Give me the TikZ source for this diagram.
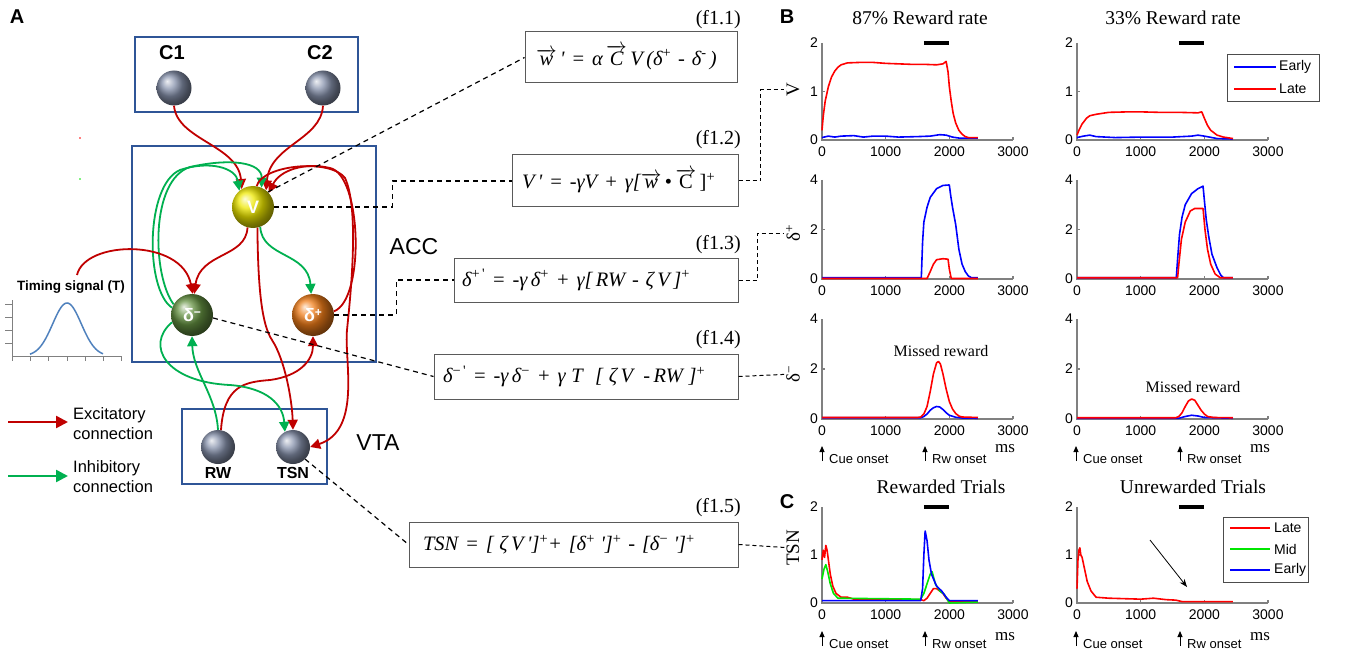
\documentclass[tikz,border=0pt]{standalone}
\usepackage{fontspec}
\setmainfont{Liberation Sans}
\newfontfamily\tms{Liberation Serif}
\usetikzlibrary{arrows.meta}
\newcommand\fsz[1]{\fontsize{#1}{#1}\selectfont}
\newcommand\vv[1]{$\overrightarrow{\hbox{#1}}$}
\newcommand\sps[1]{\textsuperscript{\upshape #1}}
\definecolor{exc}{RGB}{192,0,0}
\definecolor{inh}{RGB}{0,176,80}
\definecolor{boxblue}{RGB}{47,85,151}
\definecolor{sphgray}{RGB}{135,146,172}
\definecolor{vyellow}{RGB}{238,232,0}
\definecolor{dmgreen}{RGB}{100,145,65}
\definecolor{dporange}{RGB}{240,125,25}
\definecolor{pred}{RGB}{255,0,0}
\definecolor{pblue}{RGB}{0,0,255}
\definecolor{pgreen}{RGB}{0,230,0}
\definecolor{gaus}{RGB}{79,129,189}
\definecolor{axgray}{RGB}{128,128,128}
\definecolor{eqgray}{RGB}{90,90,90}
\newcommand\frameplot[3]{%
  \draw[axisln] (0,#2) -- (0,0) -- (3000,0);
  \foreach \t in {1000,2000,3000}{\draw[axisln] (\t,0) -- ++(0,3pt);}
  \draw[axisln] (0,#3) -- ++(3pt,0);
  \foreach \t in {0,1000,2000,3000}{\node[ticklab,anchor=north,yshift=-7pt] (#1x\t) at (\t,0) {\t};}
  \node[ticklab,anchor=east,xshift=-4pt] (#1ya) at (0,0) {0};
  \node[ticklab,anchor=east,xshift=-4pt] (#1yb) at (0,#3) {#3};
  \node[ticklab,anchor=east,xshift=-4pt] (#1yc) at (0,#2) {#2};
}
\begin{document}
\begin{tikzpicture}[x=1pt,y=-1pt,
  region/.style={draw=boxblue,line width=2pt},
  sph/.style={circle,shade,inner sep=0pt,text=white,font=\bfseries\fsz{18}},
  excarrow/.style={draw=exc,line width=1.8pt,-{Triangle[length=10pt,width=10pt]}},
  inharrow/.style={draw=inh,line width=1.8pt,-{Triangle[length=10pt,width=10pt]}},
  dashc/.style={draw=black,line width=1.2pt,dash pattern=on 5pt off 4pt},
  eqbox/.style={draw=eqgray,line width=1pt,inner ysep=0pt,align=left,font=\tms\itshape\fsz{20.5}},
  eqlab/.style={font=\tms\fsz{20},anchor=east,inner sep=0pt},
  ticklab/.style={font=\fsz{14},inner sep=0pt},
  axisln/.style={draw=axgray,line width=1.2pt},
  curve/.style={line width=1.6pt,line join=round},
  ttl/.style={font=\tms\fsz{19.5}},
  ylab/.style={font=\tms\fsz{19},rotate=90,inner sep=2pt},
  onset/.style={draw=black,line width=1pt,-{Triangle[length=6pt,width=5pt]}},
  onlab/.style={font=\fsz{13},anchor=west,inner sep=0pt},
  mslab/.style={font=\tms\fsz{17},inner sep=0pt},
  plab/.style={font=\bfseries\fsz{20},inner sep=0pt},
  leglab/.style={font=\fsz{14},anchor=west,inner sep=0pt}
]
\useasboundingbox (0,0) rectangle (1362,655);
\fill[white] (0,0) rectangle (1362,655);

% ================= Panel A =================
\node[plab] (labA) at (17,17) {A};
\draw[region] (135,37) rectangle (358,112);
\draw[region] (132,146) rectangle (376,362);
\draw[region] (182,409) rectangle (327,484);

\node[font=\bfseries\fsz{20}] (c1lab) at (172,53) {C1};
\node[font=\bfseries\fsz{20}] (c2lab) at (320,53) {C2};
\node[sph,minimum size=35pt,ball color=sphgray] (C1) at (174,88) {};
\node[sph,minimum size=35pt,ball color=sphgray] (C2) at (323,88) {};
\node[sph,minimum size=42pt,ball color=vyellow] (V) at (253,207) {V};
\node[sph,minimum size=42pt,ball color=dmgreen] (dm) at (192,315) {δ\raisebox{5pt}{\fsz{12}−}};
\node[sph,minimum size=42pt,ball color=dporange] (dp) at (313,315) {δ\raisebox{5pt}{\fsz{12}+}};
\node[sph,minimum size=34pt,ball color=sphgray] (RW) at (218,447) {};
\node[sph,minimum size=34pt,ball color=sphgray] (TSN) at (293,447) {};
\node[font=\bfseries\fsz{16}] (rwlab) at (218,473) {RW};
\node[font=\bfseries\fsz{16}] (tsnlabA) at (293,473) {TSN};
\node[font=\fsz{23}] (acc) at (414,247) {ACC};
\node[font=\fsz{23}] (vta) at (378,443) {VTA};

% timing signal
\node[font=\bfseries\fsz{13.5}] (timing) at (71,287) {Timing signal (T)};
\coordinate (tstart) at (77,275);
\draw[axgray,line width=0.8pt] (12,300) -- (12,356) -- (121,356);
\foreach \yy in {304,317,330,343}{\draw[axgray,line width=0.8pt] (5,\yy) -- (12,\yy);}
\foreach \xx in {12,30,48,67,85,103,121}{\draw[axgray,line width=0.8pt] (\xx,356) -- (\xx,361);}
\draw[gaus,line width=1.5pt] plot[domain=30:103,samples=60,smooth] (\x,{356-53*exp(-((\x-67)/14.3)*((\x-67)/14.3)/2)});
\fill[pred] (80,138) circle (0.8);
\fill[pgreen] (80,179) circle (0.8);

% connections
\draw[excarrow] (C1.south) .. controls (177,140) and (238,145) .. (V.122);
\draw[excarrow] (C2.south) .. controls (321,140) and (270,145) .. (V.52);
\draw[inharrow] (dm.160) .. controls (145,290) and (145,185) .. (180,170) .. controls (210,160) and (236,168) .. (V.130);
\draw[inharrow] (dm.150) .. controls (152,275) and (150,180) .. (190,167) .. controls (230,158) and (262,162) .. (V.66);
\draw[excarrow] (dp.10) .. controls (365,300) and (362,175) .. (330,168) .. controls (305,162) and (280,170) .. (V.42);
\draw[excarrow] (V.80) .. controls (262,165) and (330,158) .. (345,178) .. controls (360,210) and (350,300) .. (347,330) .. controls (344,360) and (362,430) .. (TSN.east);
\draw[excarrow] (V.-78) .. controls (258,290) and (262,325) .. (272,340) .. controls (285,360) and (292,400) .. (TSN.north);
\draw[excarrow] (V.-105) .. controls (246,258) and (200,252) .. (dm.84);
\draw[inharrow] (V.-70) .. controls (262,258) and (308,252) .. (dp.95);
\draw[excarrow] (tstart) .. controls (85,240) and (182,238) .. (dm.88);
\draw[inharrow] (RW.north) .. controls (216,395) and (193,372) .. (dm.south);
\draw[excarrow] (RW.80) .. controls (224,385) and (245,382) .. (270,380) .. controls (300,376) and (313,360) .. (dp.south);
\draw[inharrow] (dm.200) .. controls (145,345) and (165,382) .. (230,385) .. controls (268,388) and (283,405) .. (TSN.118);

% legend
\coordinate (le1) at (8,422); \coordinate (le2) at (68,422);
\coordinate (li1) at (8,476); \coordinate (li2) at (68,476);
\draw[draw=exc,line width=2.5pt,-{Triangle[length=12pt,width=12pt]}] (le1) -- (le2);
\draw[draw=inh,line width=2.5pt,-{Triangle[length=12pt,width=12pt]}] (li1) -- (li2);
\node[anchor=west,font=\fontsize{16.5}{20}\selectfont,align=left,inner sep=0pt] (exclab) at (73,424) {Excitatory\\connection};
\node[anchor=west,font=\fontsize{16.5}{20}\selectfont,align=left,inner sep=0pt] (inhlab) at (73,477) {Inhibitory\\connection};

% ================= Equations =================
\node[eqbox,minimum width=212pt,minimum height=51pt,text width=190pt,inner xsep=11pt] (eq1) at (631,57.5) {\vv{w}\,' = α\,\vv{C}\,V\,(δ\sps{+} - δ\sps{-}\,)};
\node[eqbox,minimum width=226pt,minimum height=52pt,text width=206pt,inner xsep=10pt] (eq2) at (625,181) {V\,' = -γV + γ[\vv{w}\,\upshape•\,\vv{C}\,]\sps{+}};
\node[eqbox,minimum width=284pt,minimum height=44pt,text width=268pt,inner xsep=8pt] (eq3) at (596,280) {δ\sps{+\,'} = -γ\,δ\sps{+} + γ[\,RW - ζ\,V\,]\sps{+}};
\node[eqbox,minimum width=304pt,minimum height=45pt,text width=286pt,inner xsep=9pt] (eq4) at (586,376.5) {δ\sps{−\,'} = -γ\,δ\sps{−} + γ\;T\; [\;ζ\,V\, -\,RW\;]\sps{+}};
\node[eqbox,minimum width=329pt,minimum height=45pt,text width=301pt,inner xsep=14pt] (eq5) at (573.5,544.5) {TSN = [\;ζ\,V\,']\sps{+}+ [δ\sps{+}\;']\sps{+} - [δ\sps{−}\;']\sps{+}};
\node[eqlab] (f11) at (741,20) {(f1.1)};
\node[eqlab] (f12) at (741,140) {(f1.2)};
\node[eqlab] (f13) at (741,245) {(f1.3)};
\node[eqlab] (f14) at (741,340) {(f1.4)};
\node[eqlab] (f15) at (741,508) {(f1.5)};

\draw[dashc] (V.45) -- (eq1.west);
\draw[dashc] (V.east) -- ++(118,0) |- (eq2.west);
\draw[dashc] (dp.east) -- ++(62,0) |- (eq3.west);
\draw[dashc] (dm.-8) -- (eq4.west);
\draw[dashc] (TSN.-45) -- (eq5.west);

% y labels
\node[ylab] (Vlab) at (793,90) {V};
\node[ylab] (dplab) at (793,233) {δ\textsuperscript{+}};
\node[ylab] (dmlab) at (793,374) {δ\textsuperscript{−}};
\node[ylab] (tsnlab) at (793,548) {TSN};
\draw[dashc,line width=1pt,dash pattern=on 4pt off 3pt] (eq2.east) -- ++(22,0) |- (Vlab);
\draw[dashc,line width=1pt,dash pattern=on 4pt off 3pt] (eq3.east) -- ++(19,0) |- (dplab);
\draw[dashc,line width=1pt,dash pattern=on 4pt off 3pt] (eq4.east) -- (dmlab);
\draw[dashc,line width=1pt,dash pattern=on 4pt off 3pt] (eq5.east) -- (tsnlab);

% ================= Panel B/C =================
\node[plab] (labB) at (787,17) {B};
\node[plab] (labC) at (787,502) {C};
\node[ttl] (t1) at (920,18) {87\% Reward rate};
\node[ttl] (t2) at (1173,18) {33\% Reward rate};
\node[ttl] (t3) at (941,487) {Rewarded Trials};
\node[ttl] (t4) at (1193,487) {Unrewarded Trials};

% plot 1
\begin{scope}[xshift=822pt,yshift=-140pt,x=0.063667pt,y=48.5pt]
\frameplot{pa}{2}{1}
\draw[line width=4pt] (1600,2) -- (2000,2);
\draw[pblue,curve] plot coordinates {(0,0.05)(100,0.08)(200,0.06)(300,0.08)(500,0.09)(650,0.06)(800,0.08)(1000,0.08)(1200,0.06)(1500,0.07)(1700,0.08)(1850,0.11)(1950,0.1)(2050,0.06)(2150,0.04)(2450,0.04)};
\draw[pred,curve] plot coordinates {(0,0.2)(20,0.5)(50,0.8)(100,1.1)(150,1.3)(200,1.42)(250,1.5)(300,1.55)(400,1.59)(600,1.6)(800,1.6)(1000,1.58)(1200,1.57)(1400,1.56)(1600,1.56)(1800,1.55)(1900,1.57)(1950,1.62)(1980,1.4)(2000,1.1)(2030,0.8)(2060,0.55)(2100,0.35)(2150,0.2)(2200,0.12)(2250,0.07)(2300,0.05)(2450,0.05)};
\end{scope}
% plot 2
\begin{scope}[xshift=1077pt,yshift=-140pt,x=0.063667pt,y=48.5pt]
\frameplot{pb}{2}{1}
\draw[line width=4pt] (1600,2) -- (2000,2);
\draw[pblue,curve] plot coordinates {(0,0.05)(100,0.08)(200,0.1)(300,0.07)(600,0.05)(1000,0.06)(1500,0.06)(1800,0.08)(1900,0.1)(2000,0.08)(2200,0.03)(2450,0.02)};
\draw[pred,curve] plot coordinates {(0,0.1)(30,0.2)(80,0.33)(150,0.45)(200,0.5)(300,0.53)(500,0.57)(800,0.58)(1000,0.58)(1300,0.57)(1600,0.57)(1900,0.56)(1960,0.58)(2000,0.45)(2050,0.3)(2100,0.2)(2200,0.1)(2300,0.06)(2450,0.03)};
\end{scope}
\draw[draw=black!70,line width=1pt] (1227,55) rectangle (1319,102);
\draw[pblue,line width=2pt] (1234,67) -- (1276,67);
\draw[pred,line width=2pt] (1234,89) -- (1276,89);
\node[leglab] (lgb1) at (1279,67) {Early};
\node[leglab] (lgb2) at (1279,89) {Late};

% plot 3
\begin{scope}[xshift=822pt,yshift=-279pt,x=0.063667pt,y=24.75pt]
\frameplot{pc}{4}{2}
\draw[pblue,curve] plot coordinates {(0,0.05)(1560,0.05)(1580,1.5)(1600,2.3)(1650,2.9)(1700,3.3)(1800,3.65)(1900,3.78)(2000,3.8)(2020,3.4)(2050,2.9)(2100,2.2)(2150,1.2)(2200,0.6)(2250,0.3)(2300,0.12)(2350,0.05)(2450,0.05)};
\draw[pred,curve] plot coordinates {(0,0.02)(1650,0.02)(1700,0.3)(1750,0.6)(1800,0.78)(1900,0.82)(1980,0.8)(2000,0.4)(2030,0.02)(2450,0.02)};
\end{scope}
% plot 4
\begin{scope}[xshift=1077pt,yshift=-279pt,x=0.063667pt,y=24.75pt]
\frameplot{pd}{4}{2}
\draw[pblue,curve] plot coordinates {(0,0.05)(1560,0.05)(1580,0.8)(1610,1.8)(1650,2.5)(1700,3.0)(1800,3.45)(1900,3.65)(1980,3.75)(2000,3.2)(2030,2.4)(2070,1.7)(2120,1.0)(2200,0.45)(2260,0.15)(2300,0.05)(2450,0.05)};
\draw[pred,curve] plot coordinates {(0,0.05)(1580,0.05)(1600,0.6)(1640,1.6)(1700,2.3)(1780,2.75)(1850,2.85)(1980,2.85)(2010,2.0)(2050,1.2)(2100,0.6)(2170,0.2)(2250,0.05)(2450,0.05)};
\end{scope}
% plot 5
\begin{scope}[xshift=822pt,yshift=-419pt,x=0.063667pt,y=25pt]
\frameplot{pe}{4}{2}
\draw[pblue,curve] plot coordinates {(0,0.05)(1550,0.05)(1600,0.1)(1650,0.2)(1700,0.35)(1750,0.45)(1800,0.5)(1850,0.48)(1900,0.38)(1950,0.25)(2000,0.15)(2100,0.07)(2200,0.04)(2450,0.03)};
\draw[pred,curve] plot coordinates {(0,0.06)(1500,0.06)(1550,0.08)(1600,0.2)(1650,0.5)(1700,1.1)(1750,1.8)(1800,2.25)(1830,2.3)(1860,2.2)(1900,1.8)(1950,1.2)(2000,0.7)(2050,0.4)(2100,0.22)(2150,0.12)(2200,0.08)(2450,0.06)};
\end{scope}
% plot 6
\begin{scope}[xshift=1077pt,yshift=-419pt,x=0.063667pt,y=25pt]
\frameplot{pf}{4}{2}
\draw[pblue,curve] plot coordinates {(0,0.03)(1600,0.03)(1700,0.1)(1800,0.15)(1900,0.12)(2000,0.06)(2450,0.03)};
\draw[pred,curve] plot coordinates {(0,0.05)(1550,0.05)(1600,0.1)(1650,0.25)(1700,0.5)(1750,0.72)(1800,0.8)(1850,0.75)(1900,0.55)(1950,0.35)(2000,0.2)(2050,0.1)(2150,0.06)(2450,0.05)};
\end{scope}
\node[font=\tms\fsz{16}] (mr1) at (941,351) {Missed reward};
\node[font=\tms\fsz{16}] (mr2) at (1193,387) {Missed reward};

% plot 7
\begin{scope}[xshift=822pt,yshift=-603pt,x=0.063667pt,y=48pt]
\frameplot{pg}{2}{1}
\draw[line width=4pt] (1600,2) -- (2000,2);
\draw[pred,curve] plot coordinates {(0,0.9)(20,1.1)(40,0.95)(60,1.2)(80,1.1)(100,0.9)(130,0.6)(170,0.35)(220,0.2)(300,0.12)(400,0.12)(500,0.08)(1550,0.07)(1600,0.05)(1650,0.1)(1700,0.2)(1750,0.3)(1800,0.3)(1850,0.25)(1900,0.2)(1950,0.1)(2000,0.03)(2450,0.03)};
\draw[pgreen,curve] plot coordinates {(0,0.5)(30,0.7)(60,0.8)(90,0.65)(130,0.4)(180,0.2)(250,0.1)(1550,0.08)(1600,0.2)(1650,0.4)(1700,0.6)(1730,0.65)(1780,0.4)(1850,0.25)(1920,0.18)(2000,0)(2450,0.02)};
\draw[pblue,curve] plot coordinates {(0,0.05)(200,0.05)(1550,0.05)(1580,0.3)(1600,1.0)(1620,1.5)(1650,1.3)(1680,0.9)(1720,0.6)(1800,0.35)(1880,0.25)(1950,0.12)(2000,0.05)(2450,0.05)};
\end{scope}
% plot 8
\begin{scope}[xshift=1077pt,yshift=-603pt,x=0.063667pt,y=48pt]
\frameplot{ph}{2}{1}
\draw[line width=4pt] (1600,2) -- (2000,2);
\draw[pred,curve] plot coordinates {(0,0.3)(15,0.9)(30,1.1)(45,1.15)(60,1.0)(80,0.95)(120,0.7)(160,0.45)(220,0.25)(300,0.12)(500,0.1)(1000,0.08)(1200,0.1)(1400,0.07)(1550,0.06)(1650,0.03)(2450,0.03)};
\end{scope}
\draw[draw=black!70,line width=1pt] (1223,517) rectangle (1308,582);
\draw[pred,line width=2pt] (1230,528) -- (1270,528);
\draw[pgreen,line width=2pt] (1230,549) -- (1270,549);
\draw[pblue,line width=2pt] (1230,570) -- (1270,570);
\node[leglab] (lgc1) at (1274,528) {Late};
\node[leglab] (lgc2) at (1274,549) {Mid};
\node[leglab] (lgc3) at (1274,570) {Early};
\coordinate (ar1) at (1150,540); \coordinate (ar2) at (1187,587);
\draw[black,line width=0.8pt,-{Stealth[length=8pt,width=6pt]}] (ar1) -- (ar2);

% onset arrows & ms labels
\foreach \xx/\nm/\tx in {822/a/Cue onset,925/b/Rw onset,1076/c/Cue onset,1180/d/Rw onset}{
  \coordinate (on1\nm) at (\xx,461); \coordinate (on2\nm) at (\xx,446);
  \draw[onset] (on1\nm) -- (on2\nm);
  \node[onlab] (onl\nm) at (\xx+7,459) {\tx};
  \coordinate (on3\nm) at (\xx,646); \coordinate (on4\nm) at (\xx,631);
  \draw[onset] (on3\nm) -- (on4\nm);
  \node[onlab] (onm\nm) at (\xx+7,644) {\tx};
}
\node[mslab] (ms1) at (1005,449) {ms};
\node[mslab] (ms2) at (1260,449) {ms};
\node[mslab] (ms3) at (1005,637) {ms};
\node[mslab] (ms4) at (1260,637) {ms};
\end{tikzpicture}
\end{document}
